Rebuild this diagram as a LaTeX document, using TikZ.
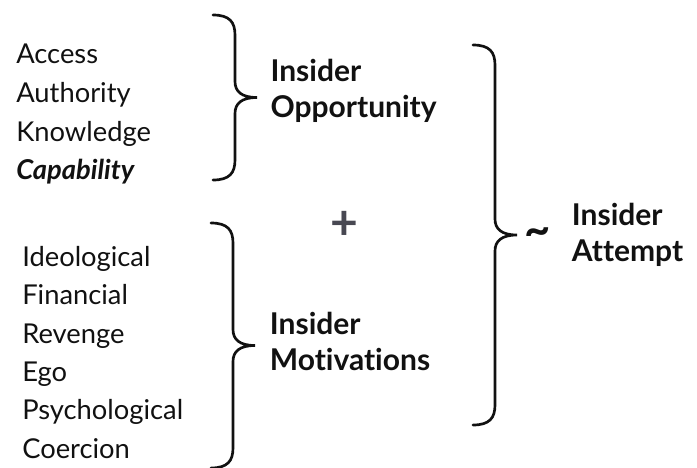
\documentclass[tikz,border=0pt]{standalone}
\usepackage{fontspec}
\setmainfont{Lato}[Ligatures=NoCommon]
\usetikzlibrary{positioning}
\definecolor{ink}{RGB}{17,17,17}
\definecolor{plusgrey}{RGB}{72,72,82}
\tikzset{
  item/.style={anchor=west, inner sep=0pt, text height=15pt, text depth=5pt, text=ink, font=\fontsize{20.5}{24}\selectfont},
  head/.style={anchor=west, inner sep=0pt, align=left, text=ink, font=\bfseries\fontsize{22.5}{27.5}\selectfont},
  curl/.style={line width=2pt, line cap=round, draw=ink}
}
% curly brace: x, top, bottom, half width, name of the tip
\newcommand{\curly}[5]{%
  \coordinate (#5) at ({#1+2*#4},{(#2+#3)/2});
  \draw[curl] (#1,#2) .. controls ({#1+0.75*#4},#2) and ({#1+#4},{#2+7}) .. ({#1+#4},{#2+20})
    -- ({#1+#4},{(#2+#3)/2-16}) .. controls ({#1+#4},{(#2+#3)/2-6}) and ({#1+1.3*#4},{(#2+#3)/2}) .. (#5)
    .. controls ({#1+1.3*#4},{(#2+#3)/2}) and ({#1+#4},{(#2+#3)/2+6}) .. ({#1+#4},{(#2+#3)/2+16})
    -- ({#1+#4},{#3-20}) .. controls ({#1+#4},{#3-7}) and ({#1+0.75*#4},#3) .. (#1,#3);
}

\begin{document}
\begin{tikzpicture}[x=0.75pt, y=-0.75pt]
  \useasboundingbox (0,0) rectangle (697,468);

  % what gives the chance
  \node[item] (acc) at (16,57) {Access};
  \node[below=29pt of acc.west, item] (auth) {Authority};
  \node[below=29pt of auth.west, item] (know) {Knowledge};
  \node[below=29pt of know.west, item, font=\bfseries\itshape\fontsize{20.5}{24}\selectfont] (cap) {Capability};

  % what drives it
  \node[item] (ideo) at (22,260) {Ideological};
  \node[below=28.7pt of ideo.west, item] (fin) {Financial};
  \node[below=28.7pt of fin.west, item] (rev) {Revenge};
  \node[below=28.7pt of rev.west, item] (ego) {Ego};
  \node[below=28.7pt of ego.west, item] (psy) {Psychological};
  \node[below=28.7pt of psy.west, item] (coer) {Coercion};

  \curly{213}{15}{180}{22}{optip}
  \curly{211}{223}{468}{22}{motip}
  \curly{473}{45}{425}{22}{attip}

  \node[head, right=10pt of optip, yshift=5pt] (opp) {Insider\\Opportunity};
  \node[head, right=11pt of motip, yshift=3pt] (mot) {Insider\\Motivations};
  \node[font=\bfseries\fontsize{36}{36}\selectfont, text=plusgrey] (plus) at (344,225) {+};

  \node[text=ink, font=\bfseries\fontsize{34}{34}\selectfont] (tilde) at (538,237) {\textasciitilde};
  \node[head, right=41pt of attip] (att) {Insider\\Attempt};
\end{tikzpicture}
\end{document}
